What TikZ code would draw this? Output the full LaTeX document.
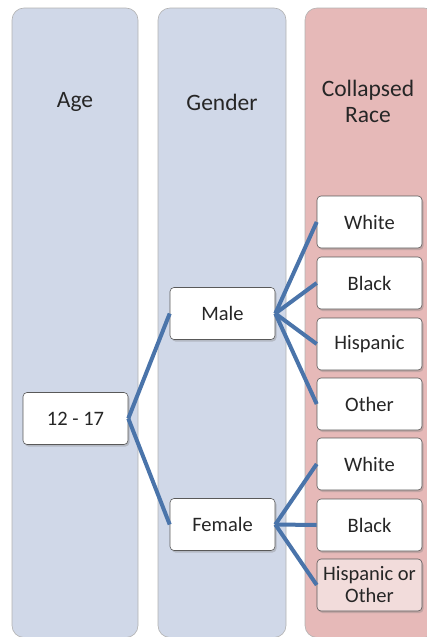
\documentclass[tikz,border=0pt]{standalone}
\usepackage{fontspec}
\setmainfont{Carlito}
\usetikzlibrary{shadows}
\definecolor{colblue}{HTML}{D0D8E8}
\definecolor{colpink}{HTML}{E6B9B8}
\definecolor{lightpink}{HTML}{F2DCDB}
\definecolor{linkblue}{HTML}{4A74AA}
\definecolor{txt}{HTML}{262626}
\begin{document}
\begin{tikzpicture}[x=1pt,y=-1pt,
 column/.style={draw=gray!60, line width=0.6pt, rounded corners=12pt},
 item/.style={draw=gray!70!black, line width=0.6pt, fill=white, rounded corners=4pt,
   minimum width=105pt, minimum height=52pt, inner sep=0pt, align=center,
   font=\fontsize{20.5}{22}\selectfont, text=txt,
   drop shadow={shadow xshift=1.5pt, shadow yshift=-2pt, opacity=0.35}},
 header/.style={font=\fontsize{23.5}{26}\selectfont, text=txt, align=center},
 link/.style={draw=linkblue, line width=4pt}]
\useasboundingbox (0,0) rectangle (427,637);
\clip (0,0) rectangle (427,637);
% columns
\draw[column, fill=colblue] (12,8) rectangle (138,637.5);
\draw[column, fill=colblue] (158,8) rectangle (286,637.5);
\draw[column, fill=colpink] (305,8) rectangle (436,637.5);
% headers
\node[header] (hage) at (75,102) {Age};
\node[header] (hgender) at (222,102) {Gender};
\node[header] (hrace) at (368,101) {Collapsed\\Race};
% items
\node[item] (age) at (75.5,418.5) {12 - 17};
\node[item] (male) at (222.5,313.5) {Male};
\node[item] (female) at (222.5,524.5) {Female};
\node[item] (mwhite) at (369.5,222) {White};
\node[item] (mblack) at (369.5,283) {Black};
\node[item] (mhisp) at (369.5,344) {Hispanic};
\node[item] (mother) at (369.5,404) {Other};
\node[item] (fwhite) at (369.5,464) {White};
\node[item] (fblack) at (369.5,525) {Black};
\node[item, fill=lightpink] (fhisp) at (369.5,585) {Hispanic or\\Other};
% links
\draw[link] (age.east) -- (male.west);
\draw[link] (age.east) -- (female.west);
\foreach \t in {mwhite,mblack,mhisp,mother}{\draw[link] (male.east) -- (\t.west);}
\foreach \t in {fwhite,fblack,fhisp}{\draw[link] (female.east) -- (\t.west);}
\end{tikzpicture}
\end{document}
